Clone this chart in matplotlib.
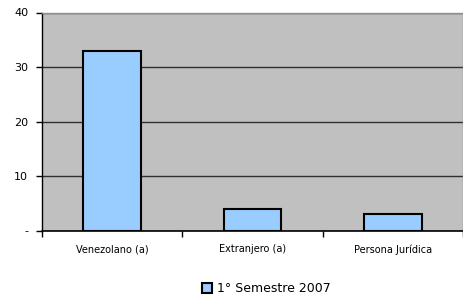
import matplotlib
matplotlib.use("Agg")
import matplotlib.pyplot as plt
from matplotlib.patches import Patch
import numpy as np

categories = ["Venezolano (a)", "Extranjero (a)", "Persona Jurídica"]
values = [33, 4, 3]
series_name = "1° Semestre 2007"
yticks = [0, 10, 20, 30, 40]
ytick_labels = ["-", "10", "20", "30", "40"]

plt.rcParams['font.family'] = ['Liberation Sans Narrow', 'DejaVu Sans']

fig = plt.figure(figsize=(4.64, 3.01), dpi=100)
ax = fig.add_axes([42/464, 1 - 230.5/301, (463-42)/464, (230.5-12.5)/301])
ax.set_facecolor('#c0c0c0')

x = np.arange(len(categories))
ax.bar(x, values, width=0.41, color='#99ccff', edgecolor='black', linewidth=1.5, zorder=3)

ax.set_xlim(-0.5, len(categories) - 0.5)
ax.set_ylim(0, 40)
ax.set_yticks(yticks)
ax.set_yticklabels(ytick_labels, fontsize=8)
ax.yaxis.grid(True, color='#303030', linewidth=1.0, zorder=1)
ax.set_axisbelow(True)

ax.set_xticks(x)
ax.set_xticklabels(categories, fontsize=7)
ax.tick_params(axis='x', length=0, pad=10)
ax.set_xticks(np.arange(len(categories) + 1) - 0.5, minor=True)
ax.tick_params(axis='x', which='minor', length=4, width=1, direction='out')
ax.tick_params(axis='y', length=4, width=1, direction='out', pad=6)

for s in ['top', 'right']:
    ax.spines[s].set_color('#909090')
    ax.spines[s].set_linewidth(1.0)
ax.spines['left'].set_color('black')
ax.spines['bottom'].set_color('black')
ax.spines['left'].set_linewidth(1.0)
ax.spines['bottom'].set_linewidth(1.2)

handle = Patch(facecolor='#99ccff', edgecolor='black', linewidth=1.5, label=series_name)
fig.legend(handles=[handle], loc='center', bbox_to_anchor=(266/464, 1 - 289/301),
           frameon=False, fontsize=9, handlelength=0.8, handleheight=0.8, handletextpad=0.4)

fig.savefig("out.png", dpi=100, facecolor='white')
